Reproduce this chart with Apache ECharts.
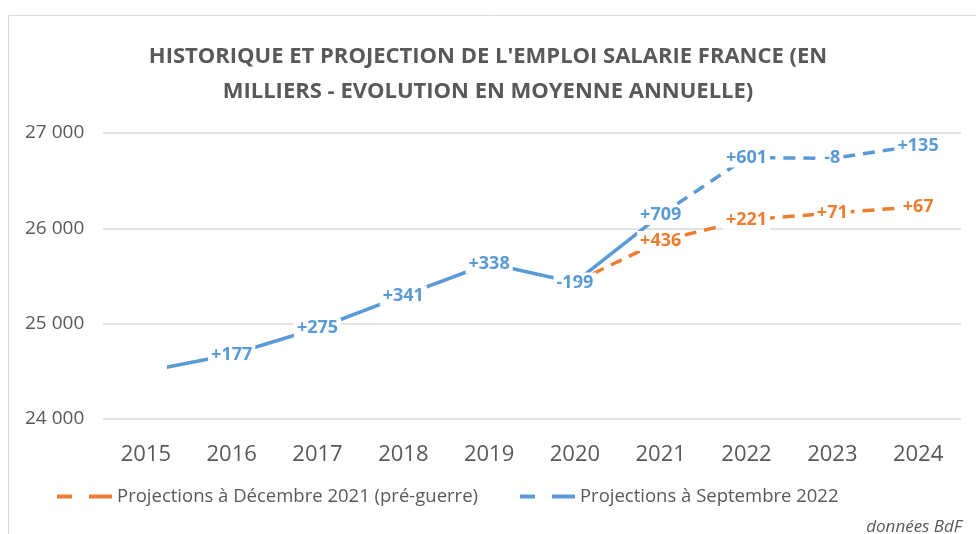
<!DOCTYPE html>
<html lang="fr">
<head>
  <meta charset="UTF-8">
  <title>Emploi salarié France</title>
  <style>
    html, body { margin: 0; padding: 0; background: #fff; }
    #chart { width: 976px; height: 534px; }
  </style>
</head>
<body>
  <div id="chart"></div>
  <script src="https://cdn.jsdelivr.net/npm/echarts@6/dist/echarts.min.js"></script>
  <script>
    // années
    const years = ['2015', '2016', '2017', '2018', '2019', '2020', '2021', '2022', '2023', '2024'];
    // niveaux (milliers)
    const historique = [24500, 24677, 24952, 25293, 25631, 25432, 26141, null, null, null];
    const projSept22 = [null, null, null, null, null, null, 26141, 26742, 26734, 26869];
    const projDec21 = [null, null, null, null, null, 25432, 25868, 26089, 26160, 26227];
    // évolutions annuelles affichées
    const varHisto = ['', '+177', '+275', '+341', '+338', '-199', '', '', '', ''];
    const varSept22 = ['', '', '', '', '', '', '+709', '+601', '-8', '+135'];
    const varDec21 = ['', '', '', '', '', '', '+436', '+221', '+71', '+67'];
    const yTicks = [24000, 25000, 26000, 27000];

    const BLUE = '#5B9BD5';
    const ORANGE = '#ED7D31';
    const GREY = '#595959';
    const FONT = '"Open Sans", sans-serif';

    function labelOf(list, color, blankFirst) {
      return {
        show: true,
        position: 'inside',
        color: color,
        fontFamily: FONT,
        fontWeight: 'bold',
        fontSize: 18,
        backgroundColor: '#fff',
        padding: [1, 3],
        // le premier point (2015) n'a pas de variation : case blanche
        formatter: p => (blankFirst && p.dataIndex === 0) ? '\u2003\u2003' : list[p.dataIndex]
      };
    }

    const dashIcon = 'path://M0,0h15v4H0z M32,0h23v4H32z';

    const chart = echarts.init(document.getElementById('chart'));
    chart.setOption({
      animation: false,
      title: {
        text: "HISTORIQUE ET PROJECTION DE L'EMPLOI SALARIE FRANCE (EN\nMILLIERS - EVOLUTION EN MOYENNE ANNUELLE)",
        left: 'center',
        top: 34,
        textStyle: {
          color: GREY,
          fontFamily: FONT,
          fontWeight: 'bold',
          fontSize: 22,
          lineHeight: 35
        }
      },
      graphic: [
        {
          type: 'rect',
          shape: { x: 8.5, y: 15.5, width: 1000, height: 600 },
          style: { fill: 'none', stroke: '#d9d9d9', lineWidth: 1 },
          silent: true
        },
        {
          type: 'text',
          right: 14,
          top: 519,
          style: { text: 'données BdF', fill: GREY, font: 'italic 17px "Open Sans", sans-serif' }
        }
      ],
      legend: {
        left: 52,
        top: 482,
        itemWidth: 55,
        itemHeight: 4,
        itemGap: 42,
        textStyle: { color: GREY, fontFamily: FONT, fontSize: 18.5 },
        data: [
          { name: 'Projections à Décembre 2021 (pré-guerre)', icon: dashIcon },
          { name: 'Projections à Septembre 2022', icon: dashIcon }
        ]
      },
      grid: { left: 103, right: 15, top: 133, bottom: 115 },
      xAxis: {
        type: 'category',
        data: years,
        boundaryGap: true,
        axisLine: { show: false },
        axisTick: { show: false },
        axisLabel: { color: GREY, fontFamily: FONT, fontSize: 22, margin: 25 }
      },
      yAxis: {
        type: 'value',
        min: yTicks[0],
        max: yTicks[yTicks.length - 1],
        interval: 1000,
        axisLabel: {
          color: GREY,
          fontFamily: FONT,
          fontSize: 19,
          margin: 78,
          align: 'left',
          formatter: v => String(v).replace(/\B(?=(\d{3})+(?!\d))/g, ' ')
        },
        splitLine: { lineStyle: { color: '#d9d9d9', width: 1.5 } }
      },
      series: [
        {
          name: 'Historique',
          type: 'line',
          data: historique,
          symbol: 'circle',
          symbolSize: 1,
          itemStyle: { color: BLUE },
          lineStyle: { color: BLUE, width: 3.5 },
          label: labelOf(varHisto, BLUE, true),
          z: 2
        },
        {
          name: 'Projections à Décembre 2021 (pré-guerre)',
          type: 'line',
          data: projDec21,
          symbol: 'circle',
          symbolSize: 1,
          itemStyle: { color: ORANGE },
          lineStyle: { color: ORANGE, width: 3.5, type: [12, 8] },
          label: labelOf(varDec21, ORANGE, false),
          z: 2
        },
        {
          name: 'Projections à Septembre 2022',
          type: 'line',
          data: projSept22,
          symbol: 'circle',
          symbolSize: 1,
          itemStyle: { color: BLUE },
          lineStyle: { color: BLUE, width: 3.5, type: [12, 8] },
          label: labelOf(varSept22, BLUE, false),
          z: 2
        }
      ]
    });
  </script>
</body>
</html>
